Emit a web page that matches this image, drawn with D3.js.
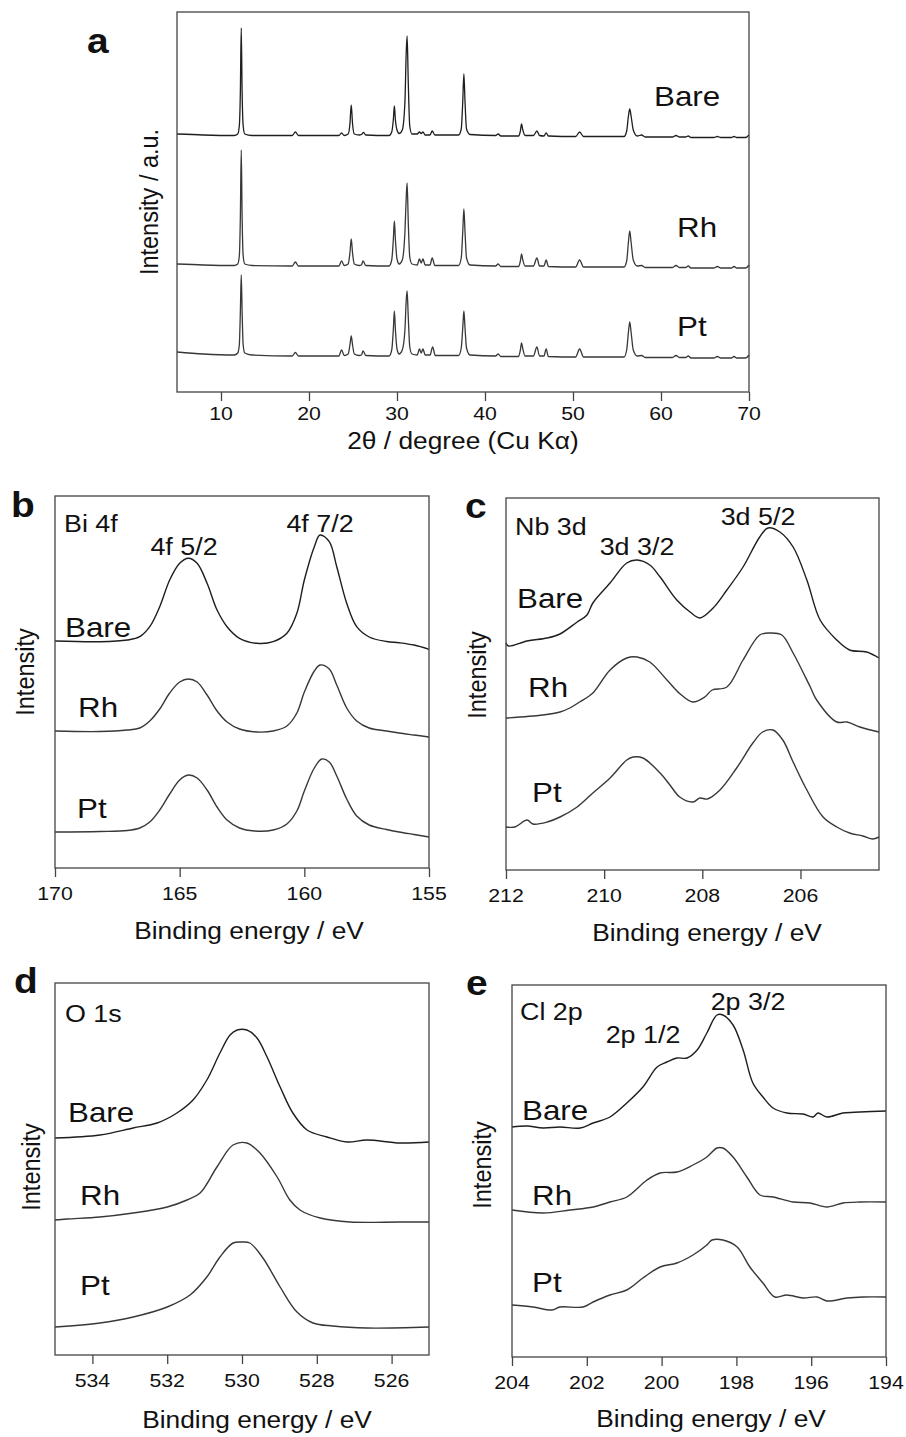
<!DOCTYPE html>
<html><head><meta charset="utf-8">
<script src="https://cdn.jsdelivr.net/npm/d3@7/dist/d3.min.js"></script>
<style>body{margin:0;background:#fff}svg{display:block}</style>
</head><body>
<svg id="fig" width="906" height="1437"></svg>
<script>
// ---------------- DATA ----------------
// (a) XRD, 2θ (deg) vs stacked intensity (a.u.)
const xrdTicks = [10, 20, 30, 40, 50, 60, 70];
const xrdBare = [[5,258],[8,257],[11.5,256.5],[11.9,258],[12.08,266],[12.2,300],[12.3,364],[12.4,300],[12.52,266],[12.7,258],[13.5,256.5],
[18.1,256.5],[18.45,260],[18.8,256.5],
[23.4,256.5],[23.7,259],[24.0,256.5],[24.45,258],[24.65,268],[24.8,287],[24.95,268],[25.15,258],[25.7,257],[25.95,257.5],[26.2,259.5],[26.45,257],
[29.1,256.5],[29.4,260],[29.58,272],[29.7,286],[29.82,272],[30.0,262],[30.25,258.5],[30.6,262],[30.9,290],[31.05,340],[31.15,356],[31.28,310],[31.45,266],[31.7,258],[32.3,258],[32.55,260],[32.75,258.5],[32.95,260],[33.2,257],[33.75,257],[34.0,261],[34.3,257],
[37.0,257],[37.3,263],[37.47,290],[37.6,318],[37.73,290],[37.9,263],[38.3,257.5],
[41.2,256.5],[41.5,258],[41.8,256],[43.8,256],[44.02,261],[44.15,268],[44.3,262],[44.55,256.5],[45.5,256.5],[45.9,261],[46.2,256.5],[46.7,256],[46.95,259],[47.2,256],
[50.3,255.5],[50.75,260],[51.2,255.5],[55.8,255.5],[56.1,261],[56.3,276],[56.45,283],[56.6,276],[56.85,262],[57.3,256],[57.8,257],[58.2,255],
[61.3,255],[61.7,256.5],[62.1,255],[62.8,255],[63.1,256],[63.4,254.5],[66.0,254.5],[66.4,255.5],[66.8,254.5],[68.0,254.5],[68.3,255.5],[68.6,254.5],[69.6,254.5],[70,257]];
const xrdRh = [[5,128],[8,127],[11.5,126.5],[11.9,128],[12.08,136],[12.2,175],[12.3,242],[12.4,175],[12.52,136],[12.7,128],[13.5,126.5],
[18.1,126],[18.45,130],[18.8,126],
[23.4,126],[23.7,131],[24.0,126.5],[24.45,128],[24.65,139],[24.8,153],[24.95,139],[25.15,128],[25.7,126.5],[25.95,127],[26.15,131],[26.45,126.5],
[29.1,126],[29.4,132],[29.58,152],[29.7,171],[29.82,152],[30.0,133],[30.25,128],[30.6,132],[30.9,160],[31.05,195],[31.15,209],[31.28,170],[31.45,135],[31.7,128],[32.3,127],[32.55,133],[32.75,129],[32.95,133],[33.2,127],[33.75,127],[34.0,134],[34.3,126.5],
[37.0,126.5],[37.3,134],[37.47,160],[37.6,183],[37.73,160],[37.9,134],[38.3,127],
[41.2,126],[41.5,128],[41.8,125.5],[43.8,125.5],[44.02,131],[44.15,138],[44.3,132],[44.55,126],[45.5,126],[45.9,134],[46.2,126],[46.7,126],[46.95,132],[47.2,125.5],
[50.3,125],[50.75,132],[51.2,125],[55.8,125],[56.1,131],[56.3,150],[56.45,161],[56.6,150],[56.85,132],[57.3,126],[57.8,126.5],[58.2,124.5],
[61.3,124.5],[61.7,126.5],[62.1,124.5],[62.8,124.5],[63.1,126],[63.4,124],[66.0,124],[66.4,125.5],[66.8,124],[68.0,124],[68.3,125.5],[68.6,124],[69.6,124],[70,127]];
const xrdPt = [[5,40],[8,38],[11.5,37],[11.9,39],[12.08,47],[12.2,80],[12.3,117],[12.4,80],[12.52,47],[12.7,39],[13.5,37],
[18.1,36],[18.45,39.5],[18.8,36],
[23.4,36],[23.7,42],[24.0,36.5],[24.45,38],[24.65,47],[24.8,56],[24.95,47],[25.15,38],[25.7,36.5],[25.95,37],[26.15,41],[26.45,36.5],
[29.1,36],[29.4,42],[29.58,62],[29.7,81],[29.82,62],[30.0,43],[30.25,38],[30.6,42],[30.9,62],[31.05,92],[31.15,101],[31.28,75],[31.45,45],[31.7,38],[32.3,37],[32.55,43],[32.75,39],[32.95,43],[33.2,37],[33.75,37],[34.05,45],[34.35,36.5],
[37.0,36.5],[37.3,44],[37.47,64],[37.6,81],[37.73,64],[37.9,44],[38.3,37],
[41.2,36],[41.5,38],[41.8,35.5],[43.8,35.5],[44.02,42],[44.15,49],[44.3,43],[44.55,36],[45.5,36],[45.9,45],[46.2,36],[46.7,36],[46.95,43],[47.2,35.5],
[50.3,35],[50.75,43],[51.2,35],[55.8,35],[56.1,42],[56.3,60],[56.45,70],[56.6,60],[56.85,42],[57.3,36],[57.8,36.5],[58.2,34.5],
[61.3,34.5],[61.7,36.5],[62.1,34.5],[62.8,34.5],[63.1,36],[63.4,34],[66.0,34],[66.4,35.5],[66.8,34],[68.0,34],[68.3,35.5],[68.6,34],[69.6,34],[70,37]];

// (b) Bi 4f, binding energy (eV) vs stacked intensity
const biTicks = [170, 165, 160, 155];
const biBare = [[170,227],[168.2,226.3],[167.1,228],[166.6,231.3],[166.2,241.3],[165.8,261.3],[165.4,288],[165.0,304.7],[164.65,309.7],[164.3,304.7],[163.9,284.7],[163.5,258],[163.1,241.3],[162.6,229.7],[161.9,224.7],[161.25,226.3],[160.7,234.7],[160.3,254.7],[160.0,288],[159.6,321.3],[159.37,333],[159.0,326.3],[158.7,301.3],[158.3,264.7],[157.9,241.3],[157.4,231],[156.7,226.5],[156.2,225.3],[155.6,223],[155.0,218.7]];
const biRh = [[170,137],[168.2,136.5],[167.1,138],[166.6,140],[166.2,147],[165.8,159],[165.4,175],[165.0,186],[164.65,189],[164.3,186],[163.9,173],[163.5,157],[163.1,146],[162.6,139],[161.9,136],[161.25,137],[160.7,142],[160.3,155],[160.0,176],[159.6,197],[159.37,203],[159.0,199],[158.7,183],[158.3,160],[157.9,147],[157.4,140],[156.7,137],[156.2,135],[155.6,133],[155.0,131]];
const biPt = [[170,36],[168.2,36.5],[167.1,37.5],[166.6,40],[166.2,46],[165.8,58],[165.4,74],[165.0,88],[164.65,93],[164.3,90],[163.9,78],[163.5,61],[163.1,48],[162.6,40],[162.0,37],[161.25,38],[160.7,44],[160.3,57],[160.0,77],[159.6,100],[159.3,109],[159.0,106],[158.7,92],[158.3,69],[157.9,52],[157.4,43],[156.7,38.5],[156.2,36],[155.6,33.5],[155.0,31]];

// (c) Nb 3d
const nbTicks = [212, 210, 208, 206];
const nbBare = [[212,227],[211.95,224],[211.57,229],[211.16,232],[210.9,236],[210.55,248],[210.35,255],[210.23,267],[209.88,287],[209.54,307],[209.33,310],[209.07,305],[208.86,293],[208.52,270],[208.25,258],[208.05,252],[207.78,262],[207.5,280],[207.17,303],[206.83,333],[206.66,342],[206.42,338],[206.15,323],[205.87,290],[205.6,250],[205.26,230],[205.0,220],[204.65,218],[204.4,212]];
const nbRh = [[212,152],[211.25,155],[210.9,158],[210.7,162],[210.5,168],[210.23,177],[209.88,200],[209.54,212],[209.33,213],[209.07,208],[208.72,190],[208.45,176],[208.2,168],[207.95,173],[207.8,180],[207.5,183],[207.17,210],[206.83,235],[206.62,237],[206.38,235],[206.15,217],[205.8,183],[205.67,170],[205.26,148],[205.05,148],[204.79,143],[204.4,138]];
const nbPt = [[212,43],[211.82,43],[211.57,50],[211.45,46],[211.16,48],[210.9,53],[210.55,63],[210.23,77],[209.88,92],[209.54,110],[209.41,113],[209.21,112],[208.86,97],[208.66,85],[208.46,73],[208.19,68],[208.05,72],[207.9,71],[207.64,80],[207.3,102],[206.97,127],[206.77,138],[206.56,140],[206.36,130],[206.15,108],[205.87,80],[205.54,53],[205.26,43],[205.0,37],[204.73,34],[204.53,31],[204.4,33]];

// (d) O 1s
const oTicks = [534, 532, 530, 528, 526];
const oBare = [[535,217],[533.8,220],[532.91,227],[532.27,232],[531.74,242],[531.31,255],[530.94,275],[530.59,302],[530.32,320],[530.13,325],[529.87,325],[529.6,317],[529.33,298],[528.98,268],[528.64,242],[528.26,225],[527.73,218],[527.19,213],[526.66,215],[525.78,212],[525,213]];
const oRh = [[535,135],[534.68,136],[533.8,138],[532.91,142],[532.0,148],[531.47,155],[531.12,162],[530.67,188],[530.24,210],[529.87,212],[529.52,202],[529.06,178],[528.72,155],[528.45,145],[527.91,137],[527.11,133],[525.78,133],[525,133]];
const oPt = [[535,28],[533.8,32],[532.91,38],[532.0,48],[531.39,60],[530.94,78],[530.59,98],[530.24,112],[530.0,113],[529.79,112],[529.44,97],[528.98,68],[528.53,43],[528.1,32],[527.57,29],[526.66,27],[525,28]];

// (e) Cl 2p
const clTicks = [204, 202, 200, 198, 196, 194];
const clBare = [[204,230],[203.6,231],[203.17,229],[202.72,230],[202.18,229],[201.83,234],[201.38,240],[200.93,254],[200.5,270],[200.12,290],[199.86,295],[199.59,299],[199.32,299],[199.05,307],[198.79,324],[198.52,342],[198.36,342],[198.09,332],[197.82,307],[197.56,274],[197.29,260],[197.02,249],[196.65,244],[196.22,243],[195.95,240],[195.82,244],[195.58,240],[195.15,244],[194.7,245],[194,246]];
const clRh = [[204,147],[203.17,144],[202.45,147],[201.83,150],[201.38,155],[200.93,160],[200.39,177],[200.04,184],[199.59,185],[199.16,192],[198.79,200],[198.52,209],[198.36,209],[198.09,200],[197.72,180],[197.37,162],[197.02,160],[196.49,155],[196.03,154],[195.58,150],[195.15,154],[194.7,155],[194,155]];
const clPt = [[204,52],[203.44,50],[202.93,47],[202.72,50],[202.1,50],[201.83,55],[201.38,62],[200.93,67],[200.5,79],[200.04,90],[199.59,94],[199.16,102],[198.79,112],[198.65,117],[198.36,117],[197.98,110],[197.64,90],[197.29,74],[196.97,60],[196.65,62],[196.22,59],[195.84,60],[195.58,56],[195.04,59],[194.61,60],[194,60]];

const seriesNames = ["Bare", "Rh", "Pt"];

// ---------------- DRAWING ----------------
const svg = d3.select("#fig");
const FONT = "'Liberation Sans', Arial, Helvetica, sans-serif";

function txt(x, y, s, o = {}) {
  const sx = o.sx ?? 1.12;
  return svg.append("text")
    .attr("transform", o.rotate
      ? `translate(${x},${y}) rotate(-90) scale(1,${sx})`
      : `translate(${x},${y}) scale(${sx},1)`)
    .attr("font-family", FONT)
    .attr("font-size", o.size || 20)
    .attr("font-weight", o.weight || "normal")
    .attr("text-anchor", o.anchor || "start")
    .attr("fill", "#111")
    .text(s);
}

function panel(p) {
  const x = d3.scaleLinear().domain(p.xDomain).range([p.x0, p.x1]);
  const y = d3.scaleLinear().domain(p.yDomain).range([p.y1, p.y0]);
  const g = svg.append("g");
  const line = d3.line().x(d => x(d[0])).y(d => y(d[1]))
    .curve(p.curve || d3.curveCatmullRom.alpha(0.5));
  p.series.forEach((s, i) => {
    g.append("path").datum(s).attr("d", line)
      .attr("fill", "none").attr("stroke", i === 0 ? "#1e1e1e" : "#383838")
      .attr("stroke-width", p.lw || 1.4).attr("stroke-linejoin", "round");
  });
  g.append("rect").attr("x", p.x0).attr("y", p.y0)
    .attr("width", p.x1 - p.x0).attr("height", p.y1 - p.y0)
    .attr("fill", "none").attr("stroke", "#444").attr("stroke-width", 1.3);
  const ax = g.append("g").attr("transform", `translate(0,${p.y1})`)
    .call(d3.axisBottom(x).tickValues(p.ticks).tickSize(9).tickFormat(d3.format("d")));
  ax.select(".domain").remove();
  ax.selectAll(".tick line").attr("stroke", "#444").attr("stroke-width", 1.3);
  ax.selectAll(".tick text").remove();
  p.ticks.forEach(t => txt(x(t), p.y1 + p.tickDy, String(t), { size: 19, anchor: "middle" }));
  txt(p.titleX, p.y1 + p.titleDy, p.title, { size: 23.5, anchor: "middle" });
  txt(p.ylabX, p.ylabY, p.ylab, { size: 23.5, anchor: "middle", rotate: true, sx: 1.1 });
  txt(p.letter[0], p.letter[1], p.letter[2], { size: 36, weight: "bold", sx: 1.08 });
  p.labels.forEach(l => txt(l[0], l[1], l[2], { size: l[3] || 28, anchor: l[4] || "start" }));
}

panel({
  x0: 177, x1: 749, y0: 12, y1: 392, xDomain: [5, 70], yDomain: [0, 380],
  ticks: xrdTicks, series: [xrdBare, xrdRh, xrdPt], lw: 1.3, curve: d3.curveMonotoneX,
  tickDy: 28, titleX: 463, titleDy: 57, title: "2θ / degree (Cu Kα)",
  ylabX: 158, ylabY: 202, ylab: "Intensity / a.u.",
  letter: [87, 53, "a"],
  labels: [[654, 106, seriesNames[0]], [677, 237, seriesNames[1]], [677, 336, seriesNames[2]]]
});
panel({
  x0: 55, x1: 429, y0: 496, y1: 868, xDomain: [170, 155], yDomain: [0, 372],
  ticks: biTicks, series: [biBare, biRh, biPt],
  tickDy: 32, titleX: 249, titleDy: 71, title: "Binding energy / eV",
  ylabX: 34, ylabY: 672, ylab: "Intensity",
  letter: [11, 517, "b"],
  labels: [[64, 532, "Bi 4f", 24], [184, 555, "4f 5/2", 24, "middle"], [320, 532, "4f 7/2", 24, "middle"],
           [65, 637, seriesNames[0]], [78, 717, seriesNames[1]], [77, 818, seriesNames[2]]]
});
panel({
  x0: 506, x1: 879, y0: 498, y1: 870, xDomain: [212, 204.4], yDomain: [0, 372],
  ticks: nbTicks, series: [nbBare, nbRh, nbPt],
  tickDy: 32, titleX: 707, titleDy: 71, title: "Binding energy / eV",
  ylabX: 486, ylabY: 675, ylab: "Intensity",
  letter: [465, 518, "c"],
  labels: [[515, 535, "Nb 3d", 24], [637, 555, "3d 3/2", 24, "middle"], [758, 525, "3d 5/2", 24, "middle"],
           [517, 608, seriesNames[0]], [528, 697, seriesNames[1]], [532, 802, seriesNames[2]]]
});
panel({
  x0: 55, x1: 429, y0: 983, y1: 1355, xDomain: [535, 525], yDomain: [0, 372],
  ticks: oTicks, series: [oBare, oRh, oPt],
  tickDy: 32, titleX: 257, titleDy: 73, title: "Binding energy / eV",
  ylabX: 40, ylabY: 1167, ylab: "Intensity",
  letter: [14, 993, "d"],
  labels: [[65, 1022, "O 1s", 24], [68, 1122, seriesNames[0]], [80, 1205, seriesNames[1]], [80, 1295, seriesNames[2]]]
});
panel({
  x0: 512, x1: 886, y0: 985, y1: 1357, xDomain: [204, 194], yDomain: [0, 372],
  ticks: clTicks, series: [clBare, clRh, clPt],
  tickDy: 32, titleX: 711, titleDy: 70, title: "Binding energy / eV",
  ylabX: 491, ylabY: 1165, ylab: "Intensity",
  letter: [466, 995, "e"],
  labels: [[520, 1020, "Cl 2p", 24], [643, 1043, "2p 1/2", 24, "middle"], [748, 1010, "2p 3/2", 24, "middle"],
           [522, 1120, seriesNames[0]], [532, 1205, seriesNames[1]], [532, 1292, seriesNames[2]]]
});
</script>
</body></html>
